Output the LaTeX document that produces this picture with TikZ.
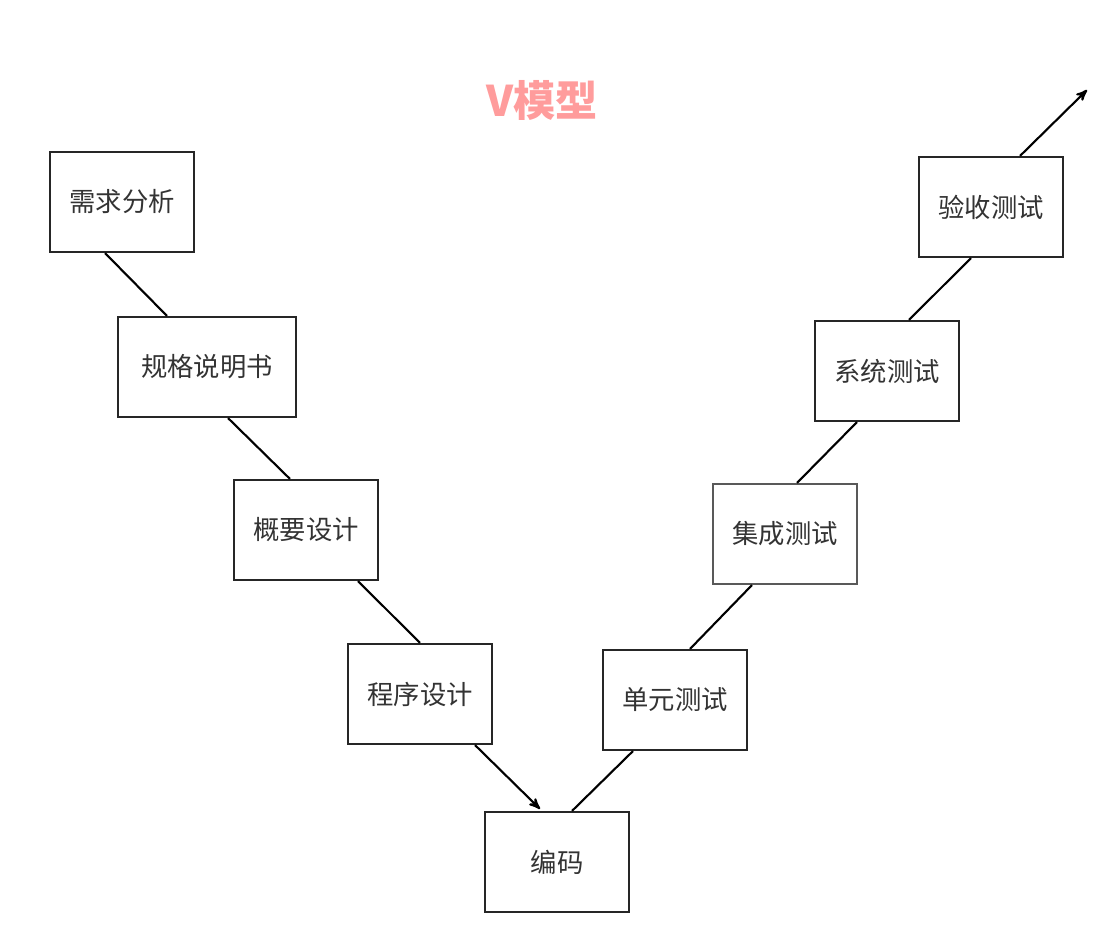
\documentclass[tikz,border=0pt]{standalone}
\usepackage{fontspec}
\setmainfont{Noto Sans CJK SC}
\usetikzlibrary{arrows}
\definecolor{titlepink}{HTML}{FF9C9C}
\definecolor{txtgray}{HTML}{333333}
\tikzset{
  phase/.style={draw=black!85,line width=1.2pt,minimum width=2.88cm,minimum height=2cm,
    inner sep=2pt,font=\fontsize{15}{18}\selectfont,text=txtgray},
  link/.style={line width=1.2pt,black}
}
\begin{document}
\begin{tikzpicture}[x=0.02cm,y=-0.02cm,>=stealth']
  \useasboundingbox (0,0) rectangle (1110,935);
  \node[font=\bfseries\fontsize{24}{28}\selectfont,text=titlepink] (title) at (542,100) {V模型};

  \node[phase] (req) at (122,202) {需求分析};
  \node[phase,minimum width=3.56cm] (spec) at (207,367) {规格说明书};
  \node[phase] (hld) at (306,530) {概要设计};
  \node[phase] (lld) at (420,694) {程序设计};
  \node[phase] (code) at (557,862) {编码};
  \node[phase] (unit) at (675,700) {单元测试};
  \node[phase,draw=black!65] (integ) at (785,534) {集成测试};
  \node[phase] (sys) at (887,371) {系统测试};
  \node[phase] (acc) at (991,207) {验收测试};
  \coordinate (out) at (1087,90);

  \draw[link] ([xshift=-0.34cm]req.south) -- ([xshift=-0.8cm]spec.north);
  \draw[link] ([xshift=0.42cm]spec.south) -- ([xshift=-0.32cm]hld.north);
  \draw[link] ([xshift=1.04cm]hld.south) -- (lld.north);
  \draw[link,->] ([xshift=1.1cm]lld.south) -- ([xshift=-0.34cm,yshift=0.04cm]code.north);
  \draw[link] ([xshift=0.3cm]code.north) -- ([xshift=-0.84cm]unit.south);
  \draw[link] ([xshift=0.3cm]unit.north) -- ([xshift=-0.66cm]integ.south);
  \draw[link] ([xshift=0.24cm]integ.north) -- ([xshift=-0.6cm]sys.south);
  \draw[link] ([xshift=0.44cm]sys.north) -- ([xshift=-0.4cm]acc.south);
  \draw[link,->] ([xshift=0.58cm]acc.north) -- (out);
\end{tikzpicture}
\end{document}
